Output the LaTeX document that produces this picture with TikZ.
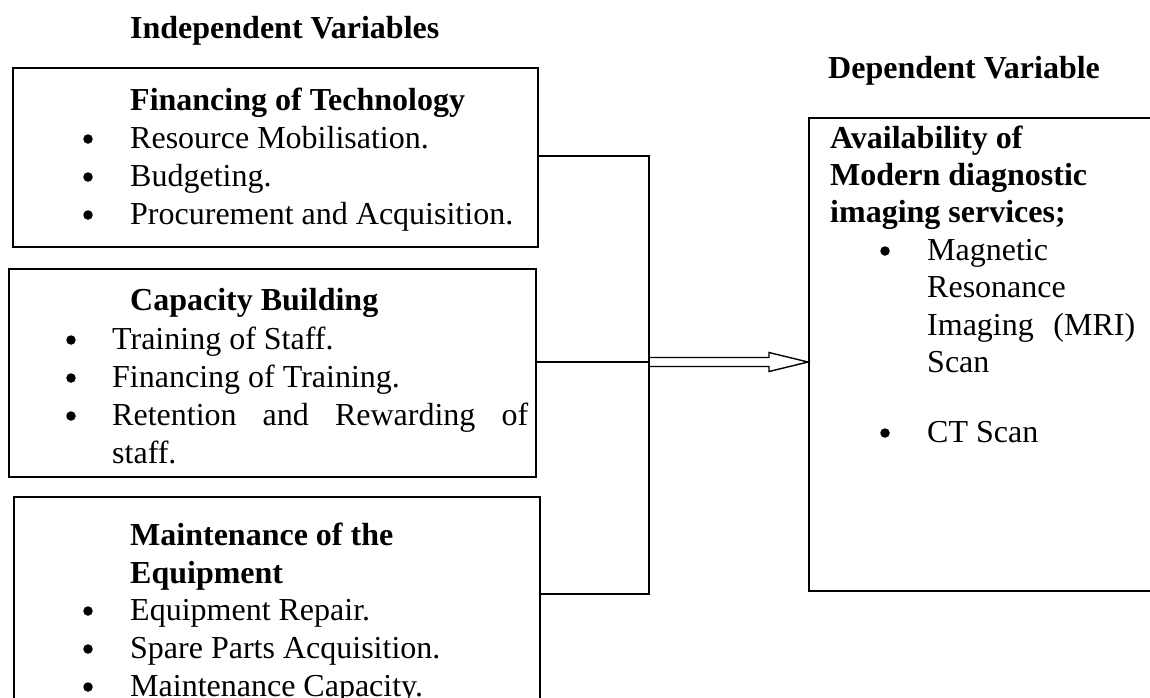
\documentclass[tikz,border=0pt]{standalone}
\usepackage{fontspec}
\setmainfont{Liberation Serif}
\begin{document}
\begin{tikzpicture}[x=1pt,y=-1pt,
  box/.style={draw, line width=1.8pt, inner sep=0pt, anchor=north west},
  conn/.style={line width=1.8pt},
  arr/.style={line width=1.4pt, line join=miter},
  tx/.style={anchor=base west, inner sep=0pt, font=\fontsize{32}{38}\selectfont},
  hd/.style={anchor=base west, inner sep=0pt, font=\fontsize{32}{38}\selectfont\bfseries},
  bul/.style={circle, fill, inner sep=0pt, minimum size=9.5pt, yshift=9pt}]
\useasboundingbox (0,0) rectangle (1150,697);
\clip (0,0) rectangle (1150,697);

% titles
\node[hd] (tind) at (130,38) {Independent Variables};
\node[hd] (tdep) at (828,78) {Dependent Variable};

% boxes
\node[box, minimum width=525pt, minimum height=179pt] (b1) at (12,67) {};
\node[box, minimum width=527pt, minimum height=208pt] (b2) at (8,268) {};
\node[box, minimum width=526pt, minimum height=254pt] (b3) at (13,496) {};
\node[box, minimum width=392pt, minimum height=473pt] (rb) at (808,117) {};

% box 1 text
\node[hd] (h1) at (130,110) {Financing of Technology};
\node[bul] (p11) at (88,148) {};
\node[tx] (t11) at (130,148) {Resource Mobilisation.};
\node[bul] (p12) at (88,186) {};
\node[tx] (t12) at (130,186) {Budgeting.};
\node[bul] (p13) at (88,224) {};
\node[tx] (t13) at (130,224) {Procurement and Acquisition.};

% box 2 text
\node[hd] (h2) at (130,310) {Capacity Building};
\node[bul] (p21) at (71,349) {};
\node[tx] (t21) at (112,349) {Training of Staff.};
\node[bul] (p22) at (71,387) {};
\node[tx] (t22) at (112,387) {Financing of Training.};
\node[bul] (p23) at (71,425) {};
\node[tx] (t23) at (112,425) {\makebox[416pt][s]{Retention and Rewarding of}};
\node[tx] (t24) at (112,463) {staff.};

% box 3 text
\node[hd] (h3a) at (130,545) {Maintenance of the};
\node[hd] (h3b) at (130,583) {Equipment};
\node[bul] (p31) at (88,620) {};
\node[tx] (t31) at (130,620) {Equipment Repair.};
\node[bul] (p32) at (88,658) {};
\node[tx] (t32) at (130,658) {Spare Parts Acquisition.};
\node[bul] (p33) at (88,696) {};
\node[tx] (t33) at (130,696) {Maintenance Capacity.};

% right box text
\node[hd] (r1) at (830,148) {Availability of};
\node[hd] (r2) at (830,185) {Modern diagnostic};
\node[hd] (r3) at (830,222) {imaging services;};
\node[bul] (q1) at (885,260) {};
\node[tx] (s1) at (927,260) {Magnetic};
\node[tx] (s2) at (927,297) {Resonance};
\node[tx] (s3) at (927,335) {\makebox[208pt][s]{Imaging (MRI)}};
\node[tx] (s4) at (927,372) {Scan};
\node[bul] (q2) at (885,442) {};
\node[tx] (s5) at (927,442) {CT Scan};

% connectors
\coordinate (j1) at (649,156);
\coordinate (j2) at (649,362);
\coordinate (j3) at (649,594);
\draw[arr] ([yshift=4.5pt]j2) -- ++(120,0) -- ++(0,-5) -- (rb.west |- j2)
  -- ++(-39,9.5) -- ++(0,-5) -- ++(-120,0);
\draw[conn] (b1.east |- j1) -- (j1) -- (j3) -- (b3.east |- j3);
\draw[conn] (b2.east |- j2) -- (j2);
\end{tikzpicture}
\end{document}
